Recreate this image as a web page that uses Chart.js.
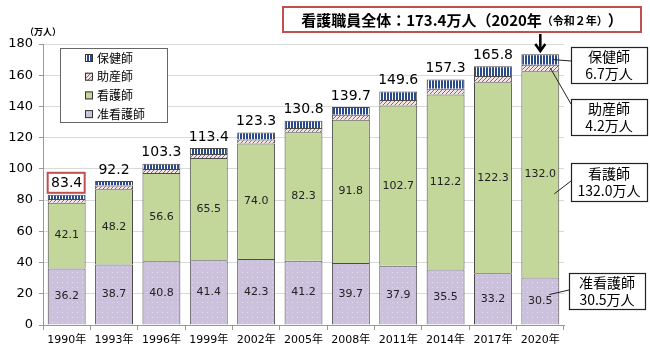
<!DOCTYPE html>
<html>
<head>
<meta charset="utf-8">
<script src="https://cdn.jsdelivr.net/npm/chart.js@4.4.1/dist/chart.umd.min.js"></script>
<style>
  body { margin: 0; background: #fff; }
  #c { display: block; }
</style>
</head>
<body>
<canvas id="c" width="650" height="358"></canvas>
<script>
// data (万人)
var years = ['1990年', '1993年', '1996年', '1999年', '2002年', '2005年', '2008年', '2011年', '2014年', '2017年', '2020年'];
var junkangoshi = [36.2, 38.7, 40.8, 41.4, 42.3, 41.2, 39.7, 37.9, 35.5, 33.2, 30.5];
var kangoshi = [42.1, 48.2, 56.6, 65.5, 74.0, 82.3, 91.8, 102.7, 112.2, 122.3, 132.0];
var josanshi = [2.4, 2.4, 2.6, 2.7, 2.6, 2.7, 3.2, 3.5, 3.7, 4.0, 4.2];
var hokenshi = [2.7, 2.9, 3.3, 3.8, 4.4, 4.6, 5.0, 5.5, 5.9, 6.3, 6.7];
var totals = [83.4, 92.2, 103.3, 113.4, 123.3, 130.8, 139.7, 149.6, 157.3, 165.8, 173.4];

var NUM = '"DejaVu Sans", "Noto Sans CJK JP", sans-serif';
var JP = '"Noto Sans CJK JP", sans-serif';

// fill patterns
function makePattern(w, h, draw) {
	var c = document.createElement('canvas');
	c.width = w; c.height = h;
	var g = c.getContext('2d');
	draw(g);
	return document.createElement('canvas').getContext('2d').createPattern(c, 'repeat');
}
var stripePat = makePattern(3, 3, function(g) {
	g.fillStyle = '#ffffff'; g.fillRect(0, 0, 3, 3);
	g.fillStyle = '#2a4a8a'; g.fillRect(0, 0, 2, 3);
});
var hatchPat = makePattern(4, 4, function(g) {
	g.fillStyle = '#f4e4e4'; g.fillRect(0, 0, 4, 4);
	g.fillStyle = '#c0504d';
	for (var i = 0; i < 4; i++) g.fillRect(i, 3 - i, 1, 1);
});
var dotPat = makePattern(5, 5, function(g) {
	g.fillStyle = '#ccc1dd'; g.fillRect(0, 0, 5, 5);
	g.fillStyle = '#e4ddee'; g.fillRect(2, 2, 1, 1);
});
var greenFill = '#c4d79b';

var overlay = {
	id: 'overlay',
	afterDatasetsDraw: function(chart) {
		var ctx = chart.ctx;
		ctx.save();
		// values inside segments
		ctx.font = '11px ' + NUM;
		ctx.fillStyle = '#222';
		ctx.textAlign = 'center';
		ctx.textBaseline = 'middle';
		[0, 1].forEach(function(di) {
			var meta = chart.getDatasetMeta(di);
			meta.data.forEach(function(bar, i) {
				var v = chart.data.datasets[di].data[i];
				ctx.fillText(v.toFixed(1), bar.x, (bar.y + bar.base) / 2);
			});
		});
		// totals above bars (last one is replaced by the headline)
		var top = chart.getDatasetMeta(3);
		ctx.font = '14px ' + NUM;
		ctx.fillStyle = '#000';
		top.data.forEach(function(bar, i) {
			if (i === totals.length - 1) return;
			ctx.fillText(totals[i].toFixed(1), bar.x, bar.y - 11);
			if (i === 0) {
				ctx.strokeStyle = '#c0504d';
				ctx.lineWidth = 2;
				ctx.strokeRect(bar.x - 19, bar.y - 22, 37, 20);
			}
		});
		ctx.restore();
	},
	afterDraw: function(chart) {
		var ctx = chart.ctx;
		ctx.save();
		// unit
		ctx.font = 'bold 9px ' + JP;
		ctx.fillStyle = '#000';
		ctx.textAlign = 'left';
		ctx.textBaseline = 'middle';
		ctx.fillText('（万人）', 25, 32);

		// legend
		ctx.fillStyle = '#fff';
		ctx.fillRect(60, 48, 107, 74);
		ctx.strokeStyle = '#666';
		ctx.lineWidth = 1;
		ctx.strokeRect(60.5, 48.5, 107, 74);
		var items = [['保健師', stripePat], ['助産師', hatchPat], ['看護師', greenFill], ['准看護師', dotPat]];
		ctx.font = '12px ' + JP;
		items.forEach(function(it, k) {
			var y = 58 + k * 18.7;
			ctx.fillStyle = it[1];
			ctx.fillRect(85, y - 4, 8, 8);
			ctx.strokeStyle = '#333';
			ctx.strokeRect(85.5, y - 3.5, 7, 7);
			ctx.fillStyle = '#000';
			ctx.fillText(it[0], 97, y);
		});

		// headline box
		ctx.fillStyle = '#fff';
		ctx.fillRect(283, 7, 358, 25);
		ctx.strokeStyle = '#c0504d';
		ctx.lineWidth = 2;
		ctx.strokeRect(283, 7, 358, 25);
		var p1 = '看護職員全体：173.4万人（2020年', p2 = '（令和２年）', p3 = '）';
		var f1 = 'bold 15px ' + JP, f2 = 'bold 11px ' + JP;
		ctx.font = f1; var w1 = ctx.measureText(p1).width, w3 = ctx.measureText(p3).width;
		ctx.font = f2; var w2 = ctx.measureText(p2).width;
		var x0 = 462 - (w1 + w2 + w3) / 2;
		ctx.fillStyle = '#000';
		ctx.font = f1; ctx.fillText(p1, x0, 20);
		ctx.font = f2; ctx.fillText(p2, x0 + w1, 20.5);
		ctx.font = f1; ctx.fillText(p3, x0 + w1 + w2, 20);

		// arrow to the last bar
		var last = chart.getDatasetMeta(3).data[10];
		ctx.strokeStyle = '#000';
		ctx.lineWidth = 2.5;
		ctx.beginPath();
		ctx.moveTo(last.x, 34); ctx.lineTo(last.x, 50);
		ctx.moveTo(last.x - 5, 44); ctx.lineTo(last.x, 51); ctx.lineTo(last.x + 5, 44);
		ctx.stroke();

		// callouts
		var ys = chart.scales.y;
		var cx = last.x;
		var calls = [
			{ t: ['保健師', '6.7万人'], box: [571, 47, 76, 36], from: [cx + 13, ys.getPixelForValue(170)], to: [571, 61] },
			{ t: ['助産師', '4.2万人'], box: [571, 99, 76, 36], from: [cx + 10, ys.getPixelForValue(164.6)], to: [571, 104] },
			{ t: ['看護師', '132.0万人'], box: [571, 163, 76, 38], from: [cx + 14, ys.getPixelForValue(84)], to: [571, 181] },
			{ t: ['准看護師', '30.5万人'], box: [569, 273, 76, 36], from: [cx + 9, ys.getPixelForValue(19.5)], to: [569, 290] }
		];
		ctx.font = '14px ' + JP;
		ctx.textAlign = 'center';
		calls.forEach(function(c) {
			ctx.strokeStyle = '#222';
			ctx.lineWidth = 1;
			ctx.beginPath();
			ctx.moveTo(c.from[0], c.from[1]);
			ctx.lineTo(c.to[0], c.to[1]);
			ctx.stroke();
			ctx.fillStyle = '#fff';
			ctx.fillRect(c.box[0], c.box[1], c.box[2], c.box[3]);
			ctx.strokeStyle = '#222';
			ctx.lineWidth = 1.2;
			ctx.strokeRect(c.box[0] + 0.5, c.box[1] + 0.5, c.box[2], c.box[3]);
			ctx.fillStyle = '#000';
			var mx = c.box[0] + c.box[2] / 2, my = c.box[1] + c.box[3] / 2;
			ctx.fillText(c.t[0], mx, my - 8);
			ctx.fillText(c.t[1], mx, my + 9);
		});
		ctx.restore();
	}
};

var border = '#4a4a4a';
var chart = new Chart(document.getElementById('c'), {
	type: 'bar',
	data: {
		labels: years,
		datasets: [
			{ label: '准看護師', data: junkangoshi, backgroundColor: dotPat },
			{ label: '看護師', data: kangoshi, backgroundColor: greenFill },
			{ label: '助産師', data: josanshi, backgroundColor: hatchPat },
			{ label: '保健師', data: hokenshi, backgroundColor: stripePat }
		].map(function(d) {
			d.borderColor = border;
			d.borderWidth = 1;
			d.categoryPercentage = 1;
			d.barPercentage = 0.8;
			return d;
		})
	},
	options: {
		responsive: false,
		animation: false,
		layout: { padding: { top: 44, right: 86, left: 0, bottom: 0 } },
		plugins: {
			legend: { display: false },
			tooltip: { enabled: false }
		},
		scales: {
			x: {
				stacked: true,
				grid: { display: true, drawOnChartArea: false, drawTicks: true, tickLength: 5, color: '#999', offset: true },
				border: { color: '#999' },
				ticks: { font: { size: 11, family: NUM }, color: '#000', padding: 4, maxRotation: 0 },
				afterFit: function(s) { s.height = 33; }
			},
			y: {
				stacked: true,
				min: 0, max: 180,
				ticks: { stepSize: 20, font: { size: 13, family: NUM }, color: '#000', padding: 6 },
				grid: { color: '#d9d9d9', tickLength: 4, tickColor: '#999' },
				border: { color: '#999' },
				afterFit: function(s) { s.width = 43; }
			}
		}
	},
	plugins: [overlay]
});
</script>
</body>
</html>
